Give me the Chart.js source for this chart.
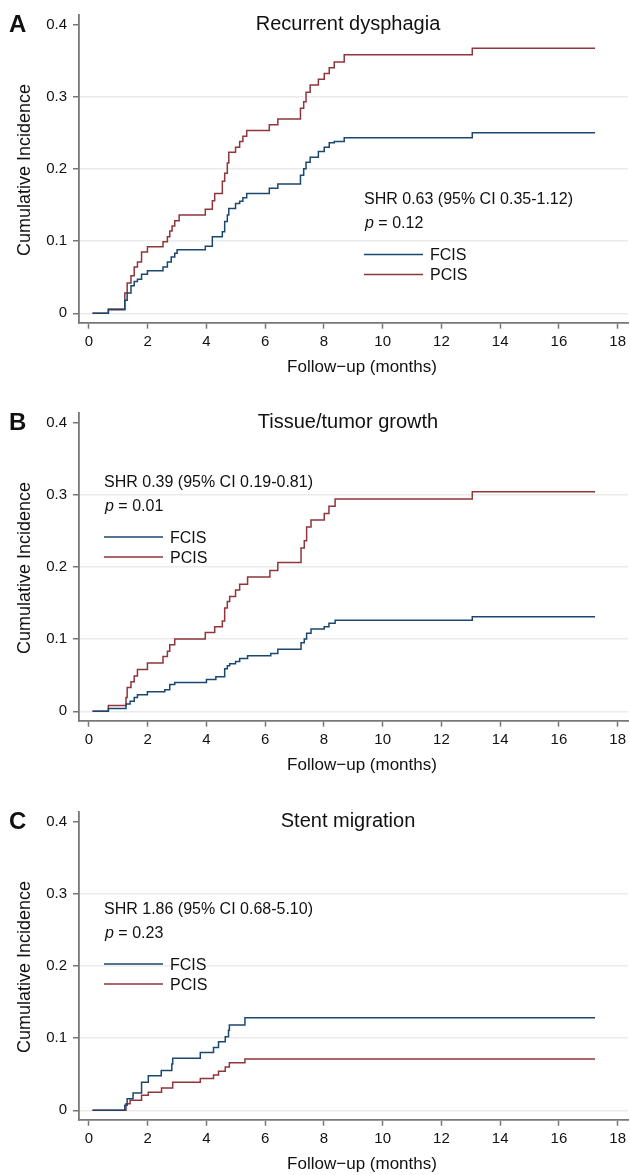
<!DOCTYPE html>
<html>
<head>
<meta charset="utf-8">
<script src="https://cdn.jsdelivr.net/npm/chart.js@4.4.0/dist/chart.umd.min.js"></script>
<style>
  body { margin: 0; background: #fff; }
  #wrap { position: relative; width: 630px; height: 1175px; background: #fff; }
  .panel { position: absolute; left: 0; width: 630px; height: 378px; }
</style>
</head>
<body>
<div id="wrap">
  <div class="panel" style="top:0px"><canvas id="chartA"></canvas></div>
  <div class="panel" style="top:398px"><canvas id="chartB"></canvas></div>
  <div class="panel" style="top:797px"><canvas id="chartC"></canvas></div>
</div>
<script>
// axis ticks
const xTicks = [0, 2, 4, 6, 8, 10, 12, 14, 16, 18];
const yTicks = [0, 0.1, 0.2, 0.3, 0.4];

// A: recurrent dysphagia
const aTimeFCIS = [0.12, 0.66, 1.22, 1.30, 1.43, 1.54, 1.65, 1.79, 1.99, 2.52, 2.67, 2.80, 2.92, 3.00, 3.96, 4.20, 4.54, 4.62, 4.71, 4.76, 4.99, 5.13, 5.24, 5.37, 6.14, 6.43, 7.20, 7.31, 7.39, 7.53, 7.81, 8.01, 8.18, 8.35, 8.69, 13.05, 17.23];
const aCifFCIS = [0, 0.005, 0.018, 0.028, 0.038, 0.044, 0.047, 0.054, 0.059, 0.064, 0.071, 0.078, 0.083, 0.088, 0.093, 0.106, 0.113, 0.127, 0.136, 0.145, 0.152, 0.155, 0.160, 0.166, 0.173, 0.179, 0.191, 0.200, 0.209, 0.216, 0.224, 0.230, 0.236, 0.238, 0.243, 0.250, 0.250];
const aTimePCIS = [0.12, 0.66, 1.22, 1.30, 1.43, 1.54, 1.65, 1.79, 1.99, 2.52, 2.67, 2.75, 2.83, 2.92, 3.07, 3.96, 4.20, 4.28, 4.54, 4.62, 4.71, 4.76, 4.99, 5.13, 5.24, 5.37, 6.14, 6.43, 7.20, 7.31, 7.39, 7.53, 7.81, 8.01, 8.18, 8.35, 8.69, 13.05, 17.23];
const aCifPCIS = [0, 0.006, 0.028, 0.042, 0.052, 0.064, 0.071, 0.085, 0.092, 0.099, 0.106, 0.114, 0.121, 0.128, 0.136, 0.144, 0.156, 0.166, 0.183, 0.194, 0.208, 0.223, 0.230, 0.238, 0.245, 0.253, 0.261, 0.269, 0.284, 0.293, 0.306, 0.316, 0.324, 0.332, 0.340, 0.348, 0.358, 0.367, 0.367];

// B: tissue/tumor growth
const bTimeFCIS = [0.12, 0.66, 1.26, 1.40, 1.54, 1.65, 1.99, 2.58, 2.75, 2.92, 4.00, 4.32, 4.62, 4.71, 4.79, 4.99, 5.13, 5.40, 6.19, 6.43, 7.22, 7.33, 7.41, 7.56, 8.01, 8.17, 8.38, 13.05, 17.23];
const bCifFCIS = [0, 0.004, 0.010, 0.014, 0.019, 0.023, 0.027, 0.030, 0.037, 0.040, 0.044, 0.048, 0.059, 0.063, 0.066, 0.069, 0.073, 0.077, 0.080, 0.086, 0.095, 0.100, 0.108, 0.114, 0.117, 0.122, 0.126, 0.131, 0.131];
const bTimePCIS = [0.12, 0.66, 1.26, 1.30, 1.43, 1.54, 1.65, 1.99, 2.52, 2.67, 2.75, 2.92, 3.96, 4.28, 4.54, 4.62, 4.71, 4.79, 4.99, 5.13, 5.40, 6.16, 6.43, 7.22, 7.33, 7.41, 7.56, 8.01, 8.17, 8.38, 13.05, 17.23];
const bCifPCIS = [0, 0.008, 0.019, 0.033, 0.041, 0.049, 0.058, 0.067, 0.076, 0.083, 0.092, 0.100, 0.109, 0.117, 0.125, 0.143, 0.152, 0.159, 0.168, 0.176, 0.186, 0.195, 0.206, 0.226, 0.236, 0.255, 0.265, 0.274, 0.284, 0.294, 0.304, 0.304];

// C: stent migration
const cTimeFCIS = [0.12, 1.22, 1.30, 1.50, 1.79, 2.02, 2.46, 2.82, 2.85, 3.79, 4.24, 4.41, 4.64, 4.75, 4.78, 5.31, 17.23];
const cCifFCIS = [0, 0.007, 0.016, 0.024, 0.039, 0.048, 0.055, 0.064, 0.072, 0.080, 0.087, 0.095, 0.102, 0.111, 0.118, 0.128, 0.128];
const cTimePCIS = [0.12, 1.26, 1.40, 1.79, 2.02, 2.47, 2.85, 3.79, 4.24, 4.41, 4.64, 4.78, 5.31, 17.23];
const cCifPCIS = [0, 0.009, 0.014, 0.021, 0.025, 0.031, 0.039, 0.044, 0.049, 0.054, 0.060, 0.066, 0.071, 0.071];

const NAVY = "#1a476f";
const MAROON = "#90353b";
const FONT = "'Liberation Sans', Arial, Helvetica, sans-serif";

function toPoints(times, values) {
  return times.map((t, i) => ({ x: t, y: values[i] }));
}

// titles, annotation and legend drawn on the canvas
const panelText = {
  id: "panelText",
  afterDraw(chart, args, opts) {
    const c = chart.ctx;
    c.save();
    c.fillStyle = "#111";
    c.textBaseline = "alphabetic";

    c.font = "bold 24px " + FONT;
    c.textAlign = "left";
    c.fillText(opts.letter, 9, 32);

    c.font = "20px " + FONT;
    c.textAlign = "center";
    c.fillText(opts.title, 348, 29.5);

    c.font = "17px " + FONT;
    c.fillText("Follow\u2212up (months)", 362, 372);

    c.save();
    c.translate(30, 170);
    c.rotate(-Math.PI / 2);
    c.font = "18px " + FONT;
    c.fillText("Cumulative Incidence", 0, 0);
    c.restore();

    // annotation
    const x0 = opts.noteX, y0 = opts.noteY;
    c.textAlign = "left";
    c.font = "16px " + FONT;
    c.fillText(opts.shr, x0, y0);
    c.font = "italic 16px " + FONT;
    c.fillText("p", x0 + 1, y0 + 24);
    const pw = c.measureText("p").width;
    c.font = "16px " + FONT;
    c.fillText(" = " + opts.p, x0 + 1 + pw, y0 + 24);

    // legend
    const rows = [["FCIS", NAVY, 50.5], ["PCIS", MAROON, 70.5]];
    rows.forEach(([label, col, dy]) => {
      c.strokeStyle = col;
      c.lineWidth = 1.5;
      c.beginPath();
      c.moveTo(x0, y0 + dy);
      c.lineTo(x0 + 59, y0 + dy);
      c.stroke();
      c.fillStyle = "#111";
      c.fillText(label, x0 + 66, y0 + dy + 5.5);
    });
    c.restore();
  }
};

function makePanel(id, tF, vF, tP, vP, text) {
  new Chart(document.getElementById(id), {
    type: "line",
    data: {
      datasets: [
        { label: "FCIS", data: toPoints(tF, vF), borderColor: NAVY, borderWidth: 1.5, stepped: true, pointRadius: 0, fill: false },
        { label: "PCIS", data: toPoints(tP, vP), borderColor: MAROON, borderWidth: 1.5, stepped: true, pointRadius: 0, fill: false }
      ]
    },
    options: {
      responsive: false,
      animation: false,
      devicePixelRatio: 1,
      layout: { padding: { top: 13, right: 0, bottom: 0, left: 0 } },
      plugins: { legend: { display: false }, tooltip: { enabled: false }, panelText: text },
      scales: {
        x: {
          type: "linear",
          min: -0.34,
          max: 18.36,
          afterBuildTicks: (s) => { s.ticks = xTicks.map((v) => ({ value: v })); },
          afterFit: (s) => { s.height = 55.3; },
          grid: { drawOnChartArea: false, tickLength: 6, tickColor: "#777", tickWidth: 1.5 },
          border: { color: "#777", width: 1.8 },
          ticks: { color: "#111", font: { family: FONT, size: 15 }, padding: 4, maxRotation: 0 }
        },
        y: {
          type: "linear",
          min: -0.013,
          max: 0.413,
          afterBuildTicks: (s) => { s.ticks = yTicks.map((v) => ({ value: v })); },
          afterFit: (s) => { s.width = 79; },
          grid: {
            color: (ctx) => (ctx.tick && ctx.tick.value > 0.35 ? "rgba(0,0,0,0)" : "#ebebeb"),
            lineWidth: 1.5,
            tickLength: 6,
            tickColor: "#777",
            tickWidth: 1.5
          },
          border: { color: "#777", width: 1.8 },
          ticks: {
            color: "#111",
            font: { family: FONT, size: 15 },
            padding: 6,
            callback: (v) => (v === 0 ? "0" : v.toFixed(1))
          }
        }
      }
    },
    plugins: [panelText]
  });
}

["chartA", "chartB", "chartC"].forEach((id) => {
  const el = document.getElementById(id);
  el.width = 630;
  el.height = 378;
});

makePanel("chartA", aTimeFCIS, aCifFCIS, aTimePCIS, aCifPCIS,
  { letter: "A", title: "Recurrent dysphagia", shr: "SHR 0.63 (95% CI 0.35-1.12)", p: "0.12", noteX: 364, noteY: 204 });
makePanel("chartB", bTimeFCIS, bCifFCIS, bTimePCIS, bCifPCIS,
  { letter: "B", title: "Tissue/tumor growth", shr: "SHR 0.39 (95% CI 0.19-0.81)", p: "0.01", noteX: 104, noteY: 88.5 });
makePanel("chartC", cTimeFCIS, cCifFCIS, cTimePCIS, cCifPCIS,
  { letter: "C", title: "Stent migration", shr: "SHR 1.86 (95% CI 0.68-5.10)", p: "0.23", noteX: 104, noteY: 116.5 });
</script>
</body>
</html>
